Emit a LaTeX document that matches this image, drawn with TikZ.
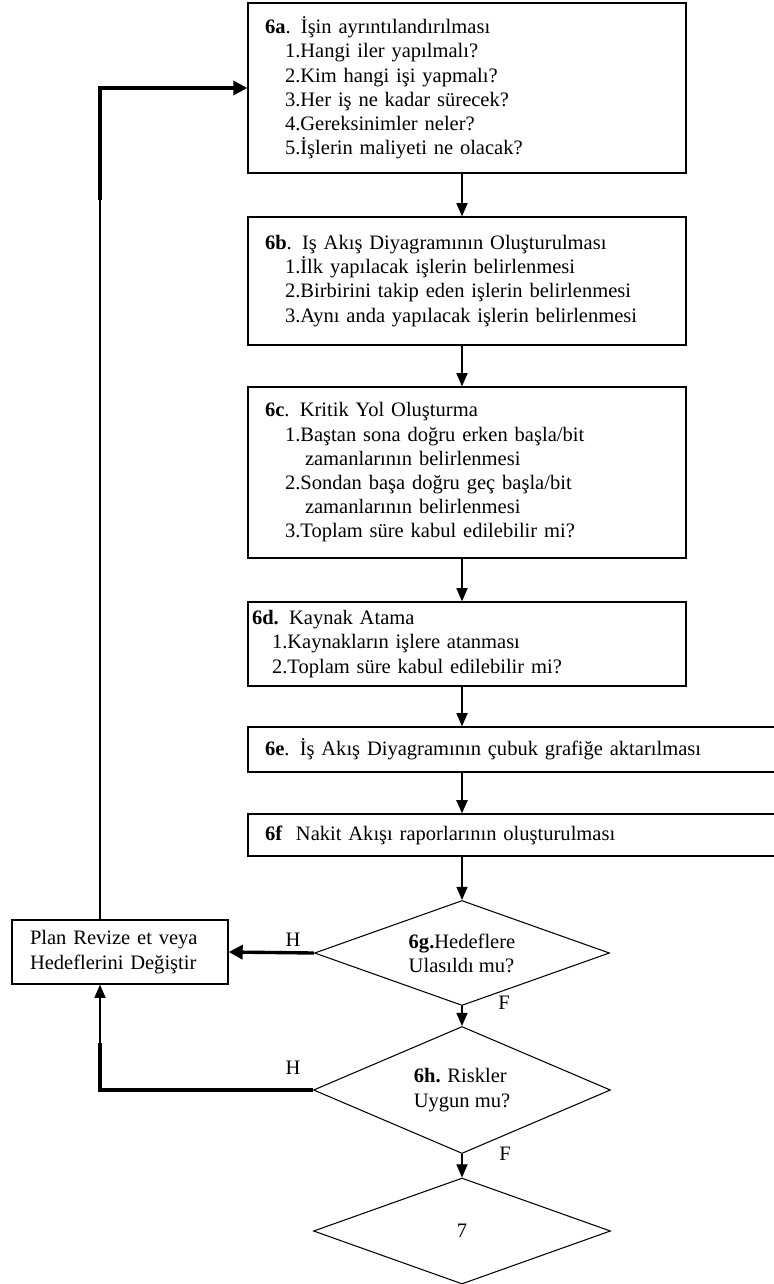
\documentclass[tikz,border=0pt]{standalone}
\usepackage{fontspec}
\setmainfont{Liberation Serif}
\usetikzlibrary{shapes.geometric,arrows.meta}
\tikzset{
  stage/.style={draw=black,line width=1pt,align=left,inner xsep=0.425cm,inner ysep=0pt,font=\fontsize{14.6}{17.2}\selectfont},
  test/.style={diamond,draw=black,line width=0.75pt,inner sep=0pt,align=left,font=\fontsize{14.6}{17.2}\selectfont},
  tag/.style={font=\fontsize{14.6}{17.2}\selectfont,inner sep=0pt},
  flow/.style={-{Triangle[length=0.33cm,width=0.28cm]},line width=0.8pt,draw=black},
  flowbold/.style={-{Triangle[length=0.35cm,width=0.35cm]},line width=2.4pt,draw=black},
  boldlink/.style={line width=2.4pt,draw=black},
  thinlink/.style={line width=0.8pt,draw=black}
}
\newcommand{\subgap}{\hspace*{0.5cm}}

\begin{document}
\begin{tikzpicture}[x=1cm,y=1cm]
\useasboundingbox (0,0) rectangle (19.35,-32.1);
% Adimlar
\node[stage,text width=10.1cm,minimum height=4.25cm] (a) at (11.675,-2.2)
{\textbf{6a}. İşin ayrıntılandırılması\\\subgap 1.Hangi iler yapılmalı?\\\subgap 2.Kim hangi işi yapmalı?\\\subgap 3.Her iş ne kadar sürecek?\\\subgap 4.Gereksinimler neler?\\\subgap 5.İşlerin maliyeti ne olacak?};
\node[stage,text width=10.1cm,minimum height=3.2cm] (b) at (11.675,-7.025)
{\textbf{6b}. Iş Akış Diyagramının Oluşturulması\\\subgap 1.İlk yapılacak işlerin belirlenmesi\\\subgap 2.Birbirini takip eden işlerin belirlenmesi\\\subgap 3.Aynı anda yapılacak işlerin belirlenmesi};
\node[stage,text width=10.1cm,minimum height=4.275cm] (c) at (11.675,-11.8125)
{\textbf{6c}. Kritik Yol Oluşturma\\\subgap 1.Baştan sona doğru erken başla/bit\\\subgap\subgap zamanlarının belirlenmesi\\\subgap 2.Sondan başa doğru geç başla/bit\\\subgap\subgap zamanlarının belirlenmesi\\\subgap 3.Toplam süre kabul edilebilir mi?};
\node[stage,inner xsep=0.1cm,text width=10.75cm,minimum height=2.1cm] (d) at (11.675,-16.1)
{\textbf{6d.} Kaynak Atama\\\subgap 1.Kaynakların işlere atanması\\\subgap 2.Toplam süre kabul edilebilir mi?};
\node[stage,text width=12.7cm,minimum height=1.125cm] (e) at (12.975,-18.7375)
{\textbf{6e}. İş Akış Diyagramının çubuk grafiğe aktarılması};
\node[stage,text width=12.7cm,minimum height=1.05cm] (f) at (12.975,-20.875)
{\textbf{6f}\ \ Nakit Akışı raporlarının oluşturulması};

% Kararlar
\node[test,minimum width=7.375cm,minimum height=2.625cm,aspect=2.8] (g) at (11.55,-23.825)
{\textbf{6g.}Hedeflere\\Ulasıldı mu?};
\node[test,minimum width=7.425cm,minimum height=3.175cm,aspect=2.3] (h) at (11.55,-27.25)
{\textbf{6h.} Riskler\\Uygun mu?};
\node[test,minimum width=7.425cm,minimum height=2.65cm,aspect=2.8] (s) at (11.55,-30.775) {7};
\node[stage,inner xsep=0.45cm,text width=4.5cm,minimum height=1.6cm] (plan) at (3.0,-23.8)
{Plan Revize et veya\\Hedeflerini Değiştir};

\node[tag] (hg) at (7.325,-23.5) {H};
\node[tag] (hh) at (7.325,-26.7) {H};
\node[tag] (fg) at (12.6,-25.075) {F};
\node[tag] (fh) at (12.625,-28.85) {F};

\draw[flow] (a.south -| g.north) -- (b.north -| g.north);
\draw[flow] (b.south -| g.north) -- (c.north -| g.north);
\draw[flow] (c.south -| g.north) -- (d.north -| g.north);
\draw[flow] (d.south -| g.north) -- (e.north -| g.north);
\draw[flow,line width=1.3pt] (e.south -| g.north) -- (f.north -| g.north);
\draw[flow] (f.south -| g.north) -- (g.north);
\draw[flow] (g.south) -- (h.north);
\draw[flow] (h.south) -- (s.north);

% Geri donus
\coordinate (upbend) at (2.5,-5.0);
\coordinate (lowbend) at (2.5,-26.075);
\draw[thinlink] (plan.north -| upbend) -- (upbend);
\draw[flowbold] (upbend) |- (a.west);
\draw[flowbold] (g.west) -- (plan.east);
\draw[boldlink] (h.west) -| (lowbend);
\draw[flow] (lowbend) -- (lowbend |- plan.south);
\end{tikzpicture}
\end{document}
